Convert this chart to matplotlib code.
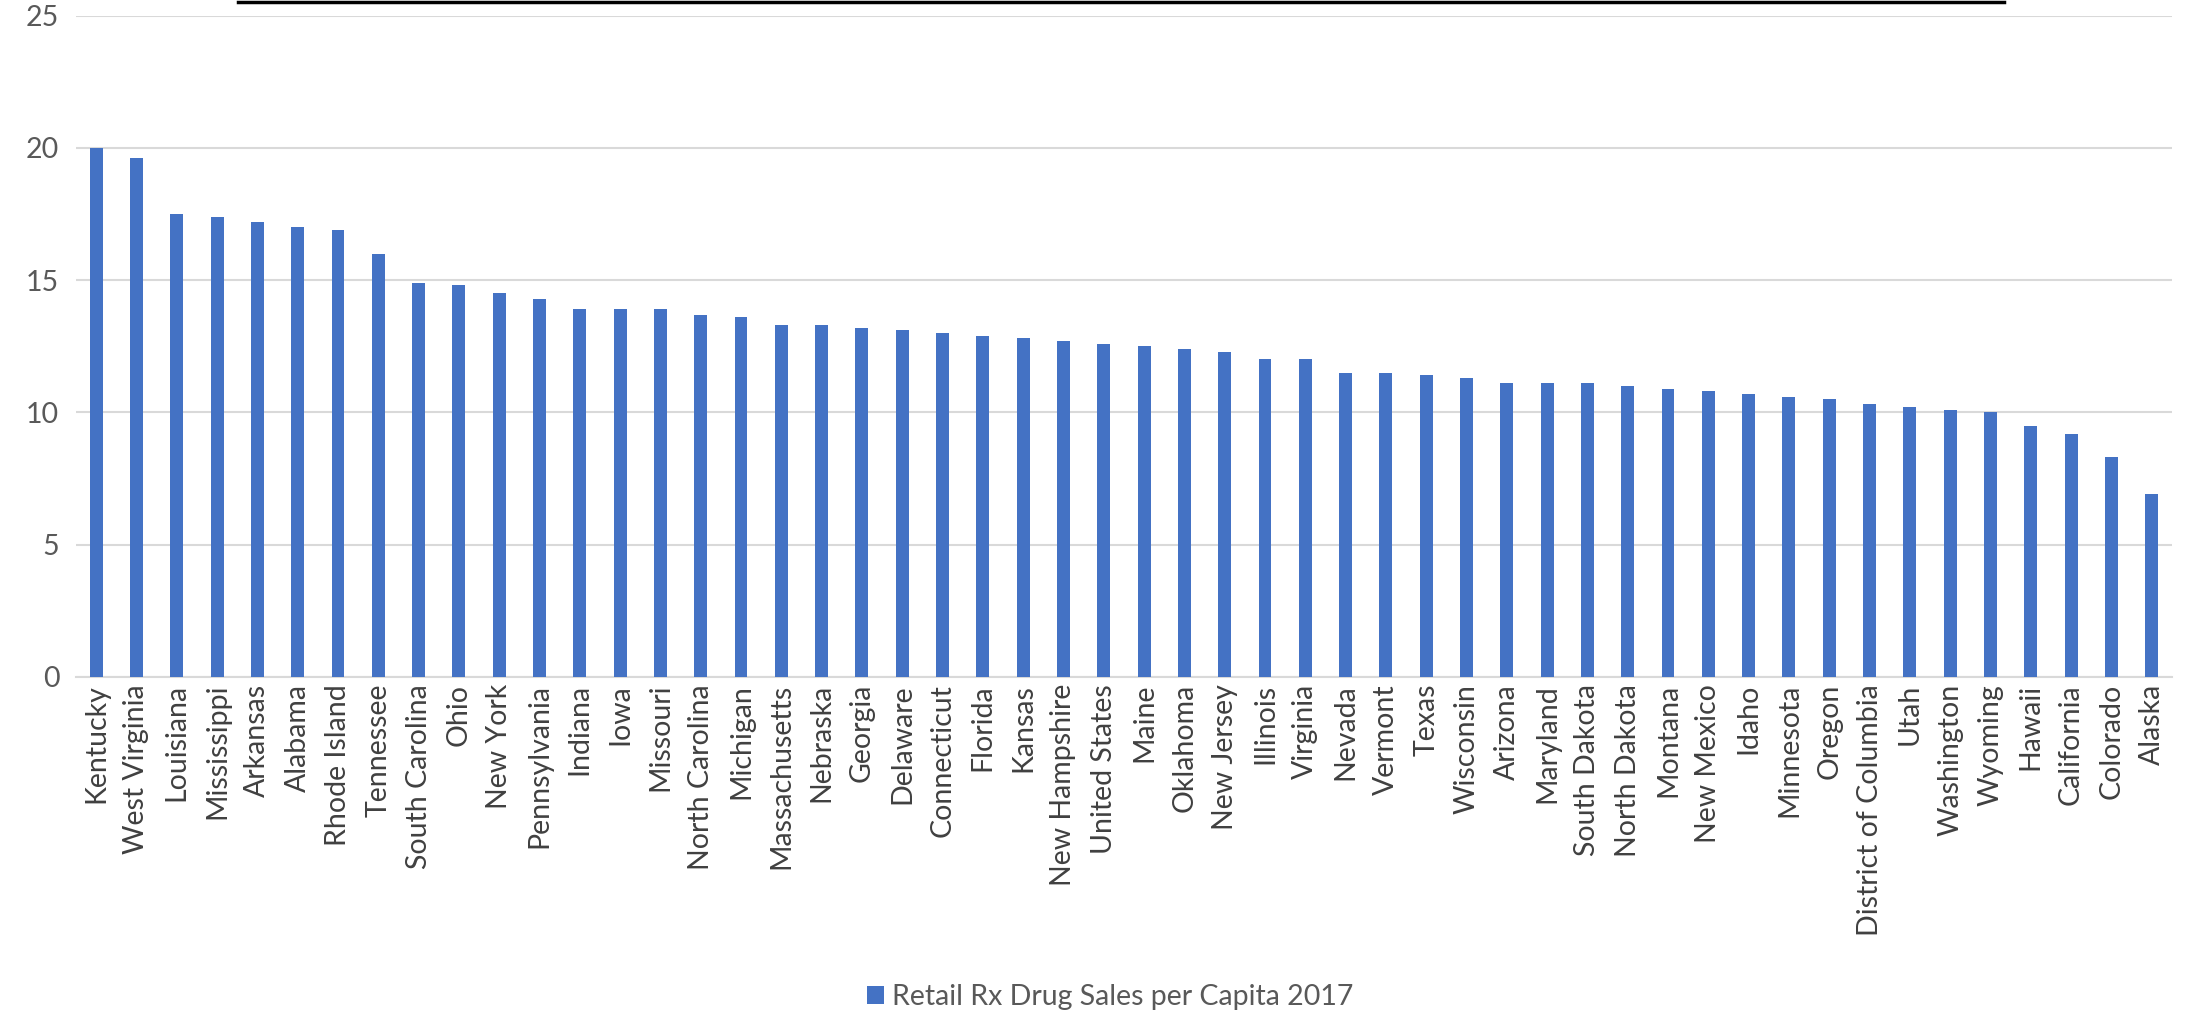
import matplotlib.pyplot as plt
from matplotlib.lines import Line2D

plt.rcParams['font.family'] = ['Lato', 'DejaVu Sans']

states = ['Kentucky', 'West Virginia', 'Louisiana', 'Mississippi', 'Arkansas', 'Alabama',
          'Rhode Island', 'Tennessee', 'South Carolina', 'Ohio', 'New York', 'Pennsylvania',
          'Indiana', 'Iowa', 'Missouri', 'North Carolina', 'Michigan', 'Massachusetts',
          'Nebraska', 'Georgia', 'Delaware', 'Connecticut', 'Florida', 'Kansas',
          'New Hampshire', 'United States', 'Maine', 'Oklahoma', 'New Jersey', 'Illinois',
          'Virginia', 'Nevada', 'Vermont', 'Texas', 'Wisconsin', 'Arizona', 'Maryland',
          'South Dakota', 'North Dakota', 'Montana', 'New Mexico', 'Idaho', 'Minnesota',
          'Oregon', 'District of Columbia', 'Utah', 'Washington', 'Wyoming', 'Hawaii',
          'California', 'Colorado', 'Alaska']
sales = [20.0, 19.6, 17.5, 17.4, 17.2, 17.0, 16.9, 16.0, 14.9, 14.8, 14.5, 14.3,
         13.9, 13.9, 13.9, 13.7, 13.6, 13.3, 13.3, 13.2, 13.1, 13.0, 12.9, 12.8,
         12.7, 12.6, 12.5, 12.4, 12.3, 12.0, 12.0, 11.5, 11.5, 11.4, 11.3, 11.1, 11.1,
         11.1, 11.0, 10.9, 10.8, 10.7, 10.6, 10.5, 10.3, 10.2, 10.1, 10.0, 9.5,
         9.2, 8.3, 6.9]
series_name = 'Retail Rx Drug Sales per Capita 2017'

fig = plt.figure(figsize=(21.9, 10.16), dpi=100)
ax = fig.add_axes([0.0347, 0.3337, 0.957, 0.651])

x = range(len(states))
bars = ax.bar(x, sales, width=0.32, color='#4472C4', label=series_name, zorder=3)

ax.set_xlim(-0.5, len(states) - 0.5)
ax.set_ylim(0, 25)
ax.set_yticks([0, 5, 10, 15, 20, 25])
ax.set_xticks(list(x))
ax.set_xticklabels(states, rotation=90, fontsize=20.5, color='#404040')
ax.tick_params(axis='y', labelsize=20.5, labelcolor='#595959', length=0, pad=12)
ax.tick_params(axis='x', length=0, pad=5)

ax.grid(axis='y', color='#d9d9d9', linewidth=1.5, zorder=0)
for s in ['top', 'right', 'left']:
    ax.spines[s].set_visible(False)
ax.spines['bottom'].set_color('#d9d9d9')
ax.spines['bottom'].set_linewidth(1.5)

# bord du cadre de titre, coupé en haut
fig.add_artist(Line2D([238 / 2190, 2004 / 2190], [0.9985, 0.9985],
                      color='black', linewidth=2.5, transform=fig.transFigure))

fig.legend(handles=[bars], labels=[series_name], loc='center', bbox_to_anchor=(0.507, 0.019),
           frameon=False, fontsize=20.5, labelcolor='#595959', handlelength=0.6,
           handleheight=0.6, handletextpad=0.3)

plt.savefig('out.png', dpi=100)
